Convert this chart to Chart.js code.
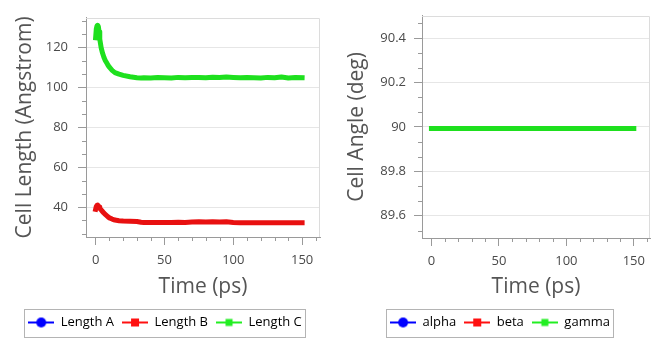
<!DOCTYPE html>
<html><head><meta charset="utf-8">
<script src="https://cdn.jsdelivr.net/npm/chart.js@4/dist/chart.umd.min.js"></script>
<style>
html,body{margin:0;padding:0;background:#fff;width:658px;height:339px;overflow:hidden}
canvas{position:absolute;top:0}
#c1{left:0}
#c2{left:329px}
</style></head><body>
<canvas id="c1" width="329" height="339"></canvas>
<canvas id="c2" width="329" height="339"></canvas>
<script>
// ---- data ----
const timeLen = [0,0.5,1,1.5,2,2.5,3,4,5,6,7,8,9,10,12,14,17,20,25,30,33,35,40,45,50,55,60,65,70,75,80,85,90,95,100,105,110,115,120,125,130,135,140,145,150];
const lengthC = [125,129.5,131,131.3,130.5,128,124.3,120,117.3,115.2,113.6,112.4,111.2,110.2,108.6,107.5,106.7,106.1,105.4,104.9,104.8,104.9,104.8,105.0,104.9,104.8,105.1,104.9,105.0,105.1,104.9,105.2,105.0,105.3,105.1,104.9,105.0,104.9,104.8,105.1,104.9,105.3,104.8,105.0,104.9];
const lengthB = [38.9,40.4,40.9,41.0,40.6,40.1,39.4,38.6,37.8,37.0,36.3,35.7,35.1,34.6,34.0,33.5,33.2,33.0,32.9,32.8,32.4,32.3,32.3,32.3,32.3,32.3,32.4,32.3,32.5,32.6,32.5,32.6,32.5,32.6,32.3,32.2,32.2,32.2,32.2,32.2,32.2,32.2,32.2,32.2,32.2];
const lengthA = [38.9,40.4,40.9,41.0,40.6,40.1,39.4,38.6,37.8,37.0,36.3,35.7,35.1,34.6,34.0,33.5,33.2,33.0,32.9,32.8,32.4,32.3,32.3,32.3,32.3,32.3,32.4,32.3,32.5,32.6,32.5,32.6,32.5,32.6,32.3,32.2,32.2,32.2,32.2,32.2,32.2,32.2,32.2,32.2,32.2];
const timeAng = [0,25,50,75,100,125,150];
const alpha = [89.993,89.993,89.993,89.993,89.993,89.993,89.993];
const beta  = [89.993,89.993,89.993,89.993,89.993,89.993,89.993];
const gamma = [89.993,89.993,89.993,89.993,89.993,89.993,89.993];
const timeTicks = [0,50,100,150];
const lenTicks = [40,60,80,100,120];
const angTicks = [89.6,89.8,90,90.2,90.4];
const angTickLabels = ['89.6','89.8','90','90.2','90.4'];
const lenLabels = ['Length A','Length B','Length C'];
const angLabels = ['alpha','beta','gamma'];

// ---- styling ----
const FONT = 'Open Sans';
const AXIS = '#9a9a9a';
const COLORS = ['#0000f0','#e81010','#1ee01e'];
const LEG_COLORS = ['#0000ff','#ff1010','#22ee22'];
const SHAPES = [['circle',10],['rect',8],['rect',7]];

function legendIcon(color, shape, size) {
  const c = document.createElement('canvas');
  c.width = 26; c.height = 12;
  const g = c.getContext('2d');
  g.strokeStyle = color; g.lineWidth = 2;
  g.beginPath(); g.moveTo(0,6); g.lineTo(26,6); g.stroke();
  g.fillStyle = color;
  if (shape === 'circle') { g.beginPath(); g.arc(13,6,size/2,0,Math.PI*2); g.fill(); }
  else g.fillRect(13-size/2, 6-size/2, size, size);
  return c;
}

const decor = {
  id: 'decor',
  beforeDatasetsDraw(chart) {
    const {ctx, chartArea: a} = chart;
    ctx.save();
    ctx.strokeStyle = '#dcdcdc'; ctx.lineWidth = 1;
    ctx.beginPath();
    ctx.moveTo(a.left, Math.round(a.top)+0.5); ctx.lineTo(Math.round(a.right)-0.5, Math.round(a.top)+0.5);
    ctx.lineTo(Math.round(a.right)-0.5, a.bottom);
    ctx.stroke();
    ctx.restore();
  },
  afterDraw(chart) {
    const {ctx, chartArea: a, scales} = chart;
    const o = chart.options.plugins.decor;
    ctx.save();
    ctx.strokeStyle = AXIS; ctx.lineWidth = 1;
    ctx.beginPath();
    const ys = scales.y, yStep = (o.yTicks[1]-o.yTicks[0])/3;
    for (let v = o.yTicks[0] - 10*yStep; v <= ys.max + 1e-9; v += yStep) {
      if (v < ys.min) continue;
      const k = Math.round((v - o.yTicks[0]) / yStep);
      if (k % 3 === 0) continue;
      const y = Math.round(ys.getPixelForValue(v)) + 0.5;
      ctx.moveTo(a.left - 4, y); ctx.lineTo(a.left, y);
    }
    const xs = scales.x;
    for (let v = 10; v <= xs.max; v += 10) {
      if (v % 50 === 0) continue;
      const x = Math.round(xs.getPixelForValue(v)) + 0.5;
      ctx.moveTo(x, a.bottom); ctx.lineTo(x, a.bottom + 4);
    }
    ctx.stroke();
    const lg = chart.legend;
    if (lg && lg.legendHitBoxes && lg.legendHitBoxes.length) {
      const hb = lg.legendHitBoxes;
      const l = Math.min(...hb.map(h => h.left)) - 4;
      const r = Math.max(...hb.map(h => h.left + h.width)) + 3;
      ctx.strokeStyle = '#b4b4b4';
      ctx.strokeRect(Math.round(l)+0.5, Math.round(lg.top)+1.5, Math.round(r-l), 28);
    }
    ctx.restore();
  }
};

function makeChart(id, cfg) {
  const n = cfg.series.length;
  const datasets = cfg.series.map((vals, i) => ({
    label: cfg.labels[i],
    data: cfg.x.map((t, j) => ({x: t, y: vals[j]})),
    borderColor: COLORS[i], backgroundColor: COLORS[i],
    borderWidth: cfg.hidden.includes(i) ? 3 : 5,
    borderCapStyle: 'square', borderJoinStyle: 'round',
    pointRadius: 0, tension: 0, order: n - i
  }));
  const icons = cfg.labels.map((_, i) => legendIcon(LEG_COLORS[i], SHAPES[i][0], SHAPES[i][1]));
  return new Chart(document.getElementById(id), {
    type: 'line',
    data: {datasets},
    options: {
      responsive: false, animation: false, devicePixelRatio: 1,
      layout: {padding: {left: cfg.padLeft, right: cfg.padRight, top: 8, bottom: 0}},
      plugins: {
        tooltip: {enabled: false},
        decor: {yTicks: cfg.yTicks},
        legend: {
          position: 'bottom',
          labels: {
            usePointStyle: true, pointStyleWidth: 26, padding: 8,
            font: {family: FONT, size: 13}, color: '#333',
            generateLabels: chart => chart.data.datasets.map((d, i) => ({
              text: d.label, pointStyle: icons[i], fillStyle: LEG_COLORS[i],
              strokeStyle: LEG_COLORS[i], lineWidth: 0, hidden: false, datasetIndex: i
            }))
          }
        }
      },
      scales: {
        x: {
          type: 'linear', min: cfg.xMin, max: cfg.xMax,
          afterBuildTicks: s => { s.ticks = timeTicks.map(v => ({value: v})); },
          afterFit: s => { s.height = cfg.xHeight; },
          grid: {drawOnChartArea: false, drawTicks: true, tickLength: 8, tickColor: AXIS},
          border: {color: AXIS},
          ticks: {padding: 7, maxRotation: 0, font: {family: FONT, size: 13}, color: '#4a4a4a'},
          title: {display: true, text: 'Time (ps)', color: '#555',
                  font: {family: FONT, size: 21, lineHeight: 1.2}, padding: {top: 0, bottom: 8}}
        },
        y: {
          type: 'linear', min: cfg.yMin, max: cfg.yMax,
          afterBuildTicks: s => { s.ticks = cfg.yTicks.map(v => ({value: v})); },
          afterFit: s => { s.width = cfg.yWidth; },
          grid: {color: '#e6e6e6', drawTicks: true, tickLength: 8, tickColor: AXIS},
          border: {color: AXIS},
          ticks: {padding: cfg.yPad, font: {family: FONT, size: 13}, color: '#4a4a4a',
                  callback: (v, i) => cfg.yLabels[i]},
          title: {display: true, text: cfg.yTitle, color: '#555',
                  font: {family: FONT, size: 21, lineHeight: 1.2}, padding: {top: cfg.yTitlePad, bottom: 0}}
        }
      }
    },
    plugins: [decor]
  });
}

makeChart('c1', {
  x: timeLen, series: [lengthA, lengthB, lengthC], labels: lenLabels, hidden: [0],
  padLeft: 10, padRight: 9, yWidth: 76, xHeight: 71, yPad: 10, yTitlePad: 2,
  xMin: -7, xMax: 163, yMin: 25, yMax: 135, yTicks: lenTicks,
  yLabels: lenTicks.map(String), yTitle: 'Cell Length (Angstrom)'
});
makeChart('c2', {
  x: timeAng, series: [alpha, beta, gamma], labels: angLabels, hidden: [0, 1],
  padLeft: 21, padRight: 8, yWidth: 72, xHeight: 70, yPad: 8, yTitlePad: -6,
  xMin: -7, xMax: 162, yMin: 89.5, yMax: 90.5, yTicks: angTicks,
  yLabels: angTickLabels, yTitle: 'Cell Angle (deg)'
});
</script>
</body></html>
